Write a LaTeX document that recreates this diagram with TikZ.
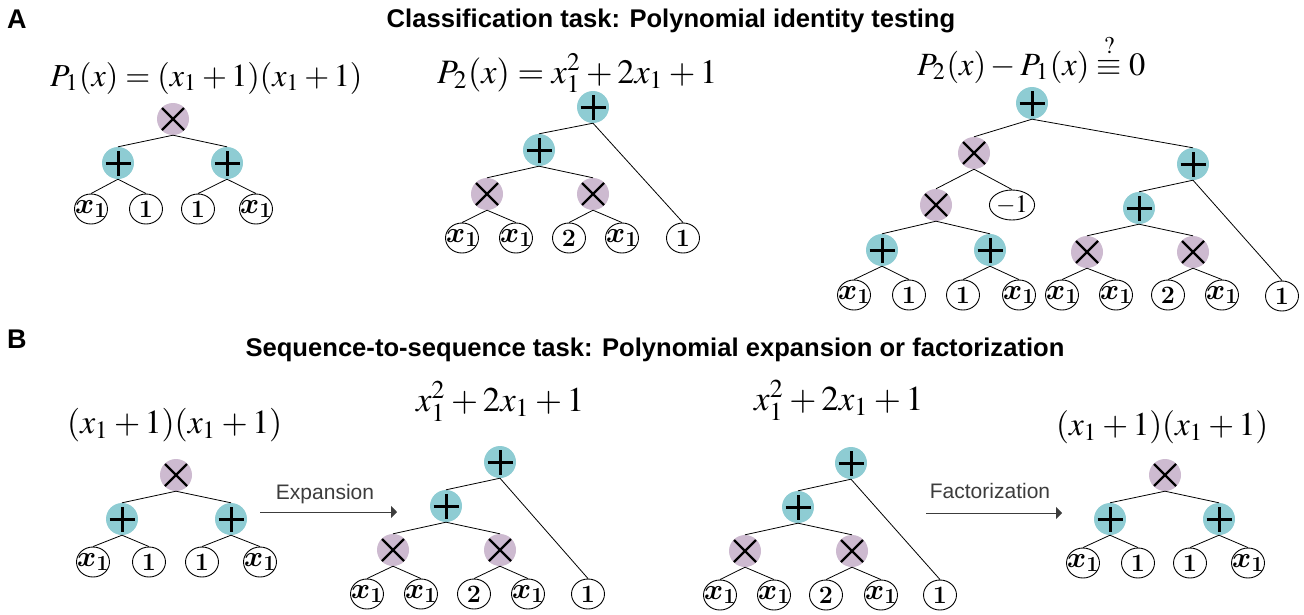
\RequirePackage{fix-cm}
\documentclass[tikz,border=0pt]{standalone}
\usepackage{mathptmx}
\usepackage[no-math]{fontspec}
\usepackage{graphicx}
\renewcommand\rmdefault{lmr}
\newfontfamily\arialf{Liberation Sans}
\DeclareMathAlphabet{\mathlmbi}{OML}{cmm}{b}{it}
\DeclareMathAlphabet{\mathlmbf}{OT1}{cmr}{bx}{n}
\usetikzlibrary{shapes.geometric,arrows.meta}
\definecolor{tealc}{RGB}{142,204,211}
\definecolor{purpc}{RGB}{205,186,208}
\definecolor{arrc}{RGB}{60,60,60}
\newcommand\lx{\makebox[0pt]{\fontsize{29}{32}\selectfont$\mathlmbi{x}_{\mathlmbf{1}}$}}
\newcommand\lnum[1]{$\mathlmbf{#1}$}
\tikzset{
  op/.style={circle, inner sep=0pt, minimum size=32pt},
  pl/.style={op, fill=tealc, path picture={
      \draw[line width=3pt] ([xshift=-12.5pt]path picture bounding box.center) -- ([xshift=12.5pt]path picture bounding box.center);
      \draw[line width=3pt] ([yshift=-12.5pt]path picture bounding box.center) -- ([yshift=12.5pt]path picture bounding box.center);}},
  ti/.style={op, fill=purpc, path picture={
      \draw[line width=2.2pt] ([shift={(-11pt,-11pt)}]path picture bounding box.center) -- ([shift={(11pt,11pt)}]path picture bounding box.center);
      \draw[line width=2.2pt] ([shift={(-11pt,11pt)}]path picture bounding box.center) -- ([shift={(11pt,-11pt)}]path picture bounding box.center);}},
  leaf/.style={ellipse, draw, line width=0.9pt, inner sep=0pt, minimum width=33pt, minimum height=30pt, font=\fontsize{25}{27}\selectfont},
  edge/.style={line width=0.8pt},
  arr/.style={line width=1pt, draw=arrc, -{Triangle[length=6pt,width=12pt]}},
  eq/.style={anchor=base west, inner sep=0pt},
  ttl/.style={anchor=base, inner sep=0pt, font=\arialf\bfseries\fontsize{25.6}{30}\selectfont},
  lbl/.style={anchor=base west, inner sep=0pt, font=\arialf\bfseries\fontsize{27}{30}\selectfont},
  arrlbl/.style={anchor=base, inner sep=0pt, text=arrc, font=\arialf\fontsize{21}{24}\selectfont},
}
\begin{document}
\begin{tikzpicture}[x=1pt,y=-1pt]
\useasboundingbox (0,0) rectangle (1304,614);
% ---------- labels and titles
\node[lbl] (labA) at (7,28) {A};
\node[lbl] (labB) at (7,348) {B};
\node[ttl] (titA) at (671,27) {Classification task: Polynomial identity testing};
\node[ttl] (titB) at (655,356) {Sequence-to-sequence task: Polynomial expansion or factorization};
% ---------- equations
\node[eq] (eA1) at (50,86) {\resizebox{312pt}{!}{$P_1(x) = (x_1+1)(x_1+1)$}};
\node[eq] (eA2) at (437,83) {\resizebox{280pt}{!}{$P_2(x) = x_1^2+2x_1+1$}};
\node[eq] (eA3) at (917,75) {\resizebox{228pt}{!}{$P_2(x) - P_1(x) \stackrel{?}{\equiv} 0$}};
\node[eq] (eB1) at (67,433) {\resizebox{215pt}{!}{$(x_1+1)(x_1+1)$}};
\node[eq] (eB2) at (416,411) {\resizebox{168pt}{!}{$x_1^2+2x_1+1$}};
\node[eq] (eB3) at (754,410) {\resizebox{169pt}{!}{$x_1^2+2x_1+1$}};
\node[eq] (eB4) at (1056,435) {\resizebox{212pt}{!}{$(x_1+1)(x_1+1)$}};
% ---------- tree A1
\node[ti] (a1r) at (173,119) {};
\node[pl] (a1p) at (118,163) {};
\node[pl] (a1q) at (227,163) {};
\node[leaf] (a1l1) at (91,209) {\lx};
\node[leaf] (a1l2) at (146,209) {\lnum{1}};
\node[leaf] (a1l3) at (198,209) {\lnum{1}};
\node[leaf] (a1l4) at (256,209) {\lx};
\foreach \p/\c in {a1r/a1p,a1r/a1q,a1p/a1l1,a1p/a1l2,a1q/a1l3,a1q/a1l4}
  \draw[edge] (\p.south) -- (\c.north);
% ---------- tree A2
\node[pl] (a2r) at (593,107) {};
\node[pl] (a2a) at (539,150) {};
\node[ti] (a2m) at (487,194) {};
\node[ti] (a2n) at (593,194) {};
\node[leaf] (a2l1) at (462,238) {\lx};
\node[leaf] (a2l2) at (516,238) {\lx};
\node[leaf] (a2l3) at (569,238) {\lnum{2}};
\node[leaf] (a2l4) at (622,238) {\lx};
\node[leaf] (a2l5) at (683,238) {\lnum{1}};
\foreach \p/\c in {a2r/a2a,a2r/a2l5,a2a/a2m,a2a/a2n,a2m/a2l1,a2m/a2l2,a2n/a2l3,a2n/a2l4}
  \draw[edge] (\p.south) -- (\c.north);
% ---------- tree A3
\node[pl] (a3r) at (1032,103) {};
\node[ti] (a3m) at (974,153) {};
\node[pl] (a3p) at (1193,164) {};
\node[ti] (a3n) at (936,205) {};
\node[leaf] (a3neg) at (1012,205) {$-1$};
\node[pl] (a3q) at (1139,208) {};
\node[pl] (a3s) at (882,250) {};
\node[pl] (a3t) at (990,250) {};
\node[ti] (a3u) at (1087,252) {};
\node[ti] (a3v) at (1193,252) {};
\node[leaf] (a3l1) at (854,295) {\lx};
\node[leaf] (a3l2) at (909,295) {\lnum{1}};
\node[leaf] (a3l3) at (963,295) {\lnum{1}};
\node[leaf] (a3l4) at (1019,295) {\lx};
\node[leaf] (a3l5) at (1062,295) {\lx};
\node[leaf] (a3l6) at (1116,295) {\lx};
\node[leaf] (a3l7) at (1168,295) {\lnum{2}};
\node[leaf] (a3l8) at (1222,295) {\lx};
\node[leaf] (a3l9) at (1282,296) {\lnum{1}};
\foreach \p/\c in {a3r/a3m,a3r/a3p,a3m/a3n,a3m/a3neg,a3n/a3s,a3n/a3t,a3s/a3l1,a3s/a3l2,a3t/a3l3,a3t/a3l4,
                   a3p/a3q,a3p/a3l9,a3q/a3u,a3q/a3v,a3u/a3l5,a3u/a3l6,a3v/a3l7,a3v/a3l8}
  \draw[edge] (\p.south) -- (\c.north);
% ---------- tree B1
\node[ti] (b1r) at (176,475) {};
\node[pl] (b1p) at (122,519) {};
\node[pl] (b1q) at (231,519) {};
\node[leaf] (b1l1) at (93,562) {\lx};
\node[leaf] (b1l2) at (149,562) {\lnum{1}};
\node[leaf] (b1l3) at (202,562) {\lnum{1}};
\node[leaf] (b1l4) at (260,562) {\lx};
\foreach \p/\c in {b1r/b1p,b1r/b1q,b1p/b1l1,b1p/b1l2,b1q/b1l3,b1q/b1l4}
  \draw[edge] (\p.south) -- (\c.north);
% ---------- tree B2
\node[pl] (b2r) at (500,462) {};
\node[pl] (b2a) at (446,506) {};
\node[ti] (b2m) at (393,550) {};
\node[ti] (b2n) at (500,550) {};
\node[leaf] (b2l1) at (367,594) {\lx};
\node[leaf] (b2l2) at (421,594) {\lx};
\node[leaf] (b2l3) at (474,594) {\lnum{2}};
\node[leaf] (b2l4) at (528,594) {\lx};
\node[leaf] (b2l5) at (588,594) {\lnum{1}};
\foreach \p/\c in {b2r/b2a,b2r/b2l5,b2a/b2m,b2a/b2n,b2m/b2l1,b2m/b2l2,b2n/b2l3,b2n/b2l4}
  \draw[edge] (\p.south) -- (\c.north);
% ---------- tree B3
\node[pl] (b3r) at (851,463) {};
\node[pl] (b3a) at (798,507) {};
\node[ti] (b3m) at (745,551) {};
\node[ti] (b3n) at (852,551) {};
\node[leaf] (b3l1) at (720,595) {\lx};
\node[leaf] (b3l2) at (774,595) {\lx};
\node[leaf] (b3l3) at (826,595) {\lnum{2}};
\node[leaf] (b3l4) at (881,595) {\lx};
\node[leaf] (b3l5) at (940,595) {\lnum{1}};
\foreach \p/\c in {b3r/b3a,b3r/b3l5,b3a/b3m,b3a/b3n,b3m/b3l1,b3m/b3l2,b3n/b3l3,b3n/b3l4}
  \draw[edge] (\p.south) -- (\c.north);
% ---------- tree B4
\node[ti] (b4r) at (1165,475) {};
\node[pl] (b4p) at (1110,519) {};
\node[pl] (b4q) at (1219,519) {};
\node[leaf] (b4l1) at (1083,563) {\lx};
\node[leaf] (b4l2) at (1138,563) {\lnum{1}};
\node[leaf] (b4l3) at (1190,563) {\lnum{1}};
\node[leaf] (b4l4) at (1248,563) {\lx};
\foreach \p/\c in {b4r/b4p,b4r/b4q,b4p/b4l1,b4p/b4l2,b4q/b4l3,b4q/b4l4}
  \draw[edge] (\p.south) -- (\c.north);
% ---------- arrows
\coordinate (ex1) at (260,512);
\coordinate (ex2) at (397,512);
\draw[arr] (ex1) -- (ex2);
\node[arrlbl] (lex) at (325,499) {Expansion};
\coordinate (fa1) at (926,513);
\coordinate (fa2) at (1062,513);
\draw[arr] (fa1) -- (fa2);
\node[arrlbl] (lfa) at (990,498) {Factorization};
\end{tikzpicture}
\end{document}
